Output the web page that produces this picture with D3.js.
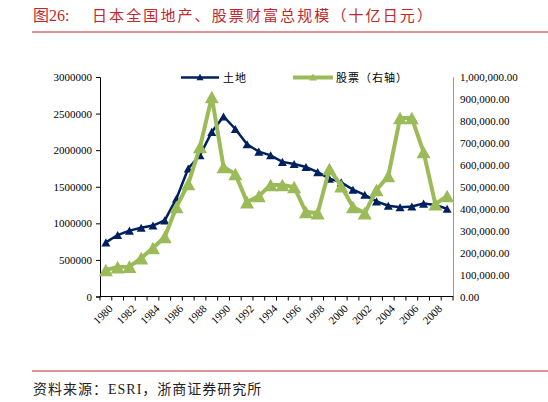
<!DOCTYPE html>
<html>
<head>
<meta charset="utf-8">
<script src="https://cdn.jsdelivr.net/npm/d3@7"></script>
<style>
  body { margin: 0; background: #fff; }
  svg { display: block; }
</style>
</head>
<body>
<svg width="548" height="402"></svg>
<script>
// years on the category axis
const years = d3.range(1980, 2010);
// land wealth (left axis, bn yen)
const landValues = [740000, 840000, 900000, 940000, 970000, 1040000, 1340000, 1750000, 1930000, 2250000,
  2460000, 2290000, 2080000, 1980000, 1930000, 1840000, 1810000, 1770000, 1700000, 1610000,
  1560000, 1460000, 1390000, 1300000, 1240000, 1220000, 1230000, 1270000, 1250000, 1200000];
// equity wealth (right axis, bn yen)
const stockValues = [121000, 134000, 136000, 175000, 221000, 271000, 408000, 513000, 681000, 909000,
  590000, 558000, 430000, 458000, 508000, 508000, 499000, 385000, 380000, 581000,
  503000, 408000, 380000, 485000, 549000, 813000, 813000, 658000, 421000, 458000];
const leftTicks = [0, 500000, 1000000, 1500000, 2000000, 2500000, 3000000];
const rightTicks = [0, 100000, 200000, 300000, 400000, 500000, 600000, 700000, 800000, 900000, 1000000];
const seriesNames = ["土地", "股票（右轴）"];

const navy = "#002060";
const green = "#9bbb59";
const red = "#c0282d";
const serif = "'Liberation Serif', 'Noto Sans CJK SC', serif";
const cjk = "'Noto Sans CJK SC', 'Liberation Serif', serif";

const svg = d3.select("svg");

// title
svg.append("text")
    .attr("x", 33).attr("y", 21)
    .attr("fill", red)
    .attr("font-family", serif)
    .attr("font-size", 16)
    .text("图26:");
svg.append("text")
    .attr("x", 92).attr("y", 21)
    .attr("fill", red)
    .attr("font-family", cjk)
    .attr("font-size", 15)
    .attr("letter-spacing", 2.1)
    .text("日本全国地产、股票财富总规模（十亿日元）");
svg.append("line")
    .attr("x1", 32).attr("x2", 548).attr("y1", 32).attr("y2", 32)
    .attr("stroke", red).attr("stroke-width", 1);

// footer
svg.append("line")
    .attr("x1", 32).attr("x2", 548).attr("y1", 371).attr("y2", 371)
    .attr("stroke", red).attr("stroke-width", 1);
const src = svg.append("text")
    .attr("x", 33).attr("y", 394)
    .attr("fill", "#222")
    .attr("font-family", cjk)
    .attr("font-size", 14)
    .attr("letter-spacing", 1);
src.append("tspan").text("资料来源：");
src.append("tspan").attr("font-family", serif).text("ESRI");
src.append("tspan").text("，浙商证券研究所");

// scales
const x = d3.scaleBand().domain(years).range([100, 453]);
const yLeft = d3.scaleLinear().domain([0, 3000000]).range([296.5, 77]);
const yRight = d3.scaleLinear().domain([0, 1000000]).range([296.5, 77]);
const cx = d => x(d) + x.bandwidth() / 2;

// left axis
const leftAxis = svg.append("g")
    .attr("transform", "translate(100,0)")
    .call(d3.axisLeft(yLeft).tickValues(leftTicks).tickFormat(d3.format("d")).tickSize(4).tickPadding(4));
leftAxis.select(".domain").attr("stroke", "#000");
leftAxis.selectAll("text").attr("font-family", serif).attr("font-size", 11).attr("fill", "#000");

// right axis
const fmtRight = d => d3.format(",.2f")(d);
const rightAxis = svg.append("g")
    .attr("transform", "translate(453,0)")
    .call(d3.axisRight(yRight).tickValues(rightTicks).tickFormat(fmtRight).tickSize(0).tickPadding(7));
rightAxis.select(".domain").attr("stroke", "#999");
rightAxis.selectAll("text").attr("font-family", serif).attr("font-size", 11).attr("fill", "#000");

// bottom axis: tick marks at band edges, labels every two years
const bottom = svg.append("g");
bottom.append("line")
    .attr("x1", 100).attr("x2", 453).attr("y1", 296.5).attr("y2", 296.5)
    .attr("stroke", "#000");
bottom.selectAll("line.tick")
    .data(years.concat([2010]))
    .join("line")
    .attr("class", "tick")
    .attr("x1", d => d === 2010 ? 453 : x(d))
    .attr("x2", d => d === 2010 ? 453 : x(d))
    .attr("y1", 296.5).attr("y2", 300.5)
    .attr("stroke", "#000");
bottom.selectAll("text")
    .data(years.filter(d => d % 2 === 0))
    .join("text")
    .attr("transform", d => `translate(${cx(d) + 2},${304}) rotate(-45)`)
    .attr("text-anchor", "end")
    .attr("dy", "0.7em")
    .attr("font-family", serif)
    .attr("font-size", 11)
    .text(d => d);

// series
const landLine = d3.line().x((d, i) => cx(years[i])).y(d => yLeft(d));
const stockLine = d3.line().x((d, i) => cx(years[i])).y(d => yRight(d));

function tri(w) {
    const h = w * 0.9;
    return `M0,${-h / 2}L${w / 2},${h / 2}L${-w / 2},${h / 2}Z`;
}

svg.append("path")
    .datum(landValues)
    .attr("d", landLine)
    .attr("fill", "none")
    .attr("stroke", navy)
    .attr("stroke-width", 2.5);
svg.append("g").selectAll("path")
    .data(landValues)
    .join("path")
    .attr("transform", (d, i) => `translate(${cx(years[i])},${yLeft(d)})`)
    .attr("d", tri(9))
    .attr("fill", navy);

svg.append("path")
    .datum(stockValues)
    .attr("d", stockLine)
    .attr("fill", "none")
    .attr("stroke", green)
    .attr("stroke-width", 4);
svg.append("g").selectAll("path")
    .data(stockValues)
    .join("path")
    .attr("transform", (d, i) => `translate(${cx(years[i])},${yRight(d)})`)
    .attr("d", tri(14))
    .attr("fill", green);

// legend
const legend = svg.append("g");
legend.append("line").attr("x1", 181).attr("x2", 219).attr("y1", 77.5).attr("y2", 77.5)
    .attr("stroke", navy).attr("stroke-width", 2.5);
legend.append("path").attr("transform", "translate(200,77)").attr("d", tri(7)).attr("fill", navy);
legend.append("text").attr("x", 223).attr("y", 81.5)
    .attr("font-family", cjk).attr("font-size", 11).attr("letter-spacing", 1)
    .text(seriesNames[0]);
legend.append("line").attr("x1", 293).attr("x2", 333).attr("y1", 77.5).attr("y2", 77.5)
    .attr("stroke", green).attr("stroke-width", 4);
legend.append("path").attr("transform", "translate(313,77)").attr("d", tri(8)).attr("fill", green);
legend.append("text").attr("x", 336).attr("y", 81.5)
    .attr("font-family", cjk).attr("font-size", 11).attr("letter-spacing", 1)
    .text(seriesNames[1]);
</script>
</body>
</html>
